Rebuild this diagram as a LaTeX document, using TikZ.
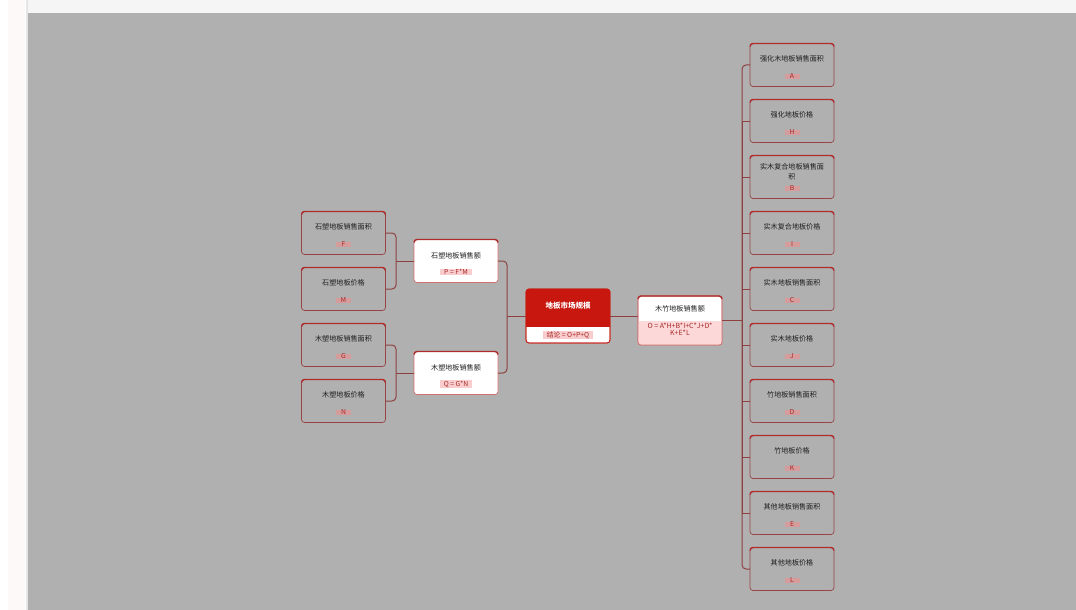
\documentclass[tikz,border=0pt]{standalone}
\usepackage{fontspec}
\newfontfamily\cjk{Noto Sans CJK SC}
\definecolor{bggray}{HTML}{B0B0B0}
\definecolor{topstrip}{HTML}{F5F5F5}
\definecolor{leftstrip}{HTML}{FDF9F8}
\definecolor{leafborder}{HTML}{984444}
\definecolor{wborder}{HTML}{D07070}
\definecolor{topred}{HTML}{AE2C2C}
\definecolor{conncol}{HTML}{8E4040}
\definecolor{badgeL}{HTML}{D69C9C}
\definecolor{badgeW}{HTML}{F9CDCD}
\definecolor{badgeT}{HTML}{A82A2A}
\definecolor{cred}{HTML}{C8170E}
\definecolor{pinkpart}{HTML}{FCD8D8}
\definecolor{titletext}{HTML}{1E1E1E}
\newcommand\leafbox[6]{%
  \node[box] (#1) at (#2,#3) {};
  \draw[topbar] ([yshift=-3pt]#1.north west) -- (#1.north west) -- (#1.north east) -- ([yshift=-3pt]#1.north east);
  \node[ttl] (#1t) at ([yshift=#6]#1.center) {#4};
  \node[badge] (#1b) at ([yshift=-11.5pt]#1.center) {#5};
}
\begin{document}
\begin{tikzpicture}[x=1pt,y=-1pt,
  box/.style={draw=leafborder, line width=0.7pt, rounded corners=3pt, minimum width=84pt, minimum height=43pt, inner sep=0pt, outer sep=0pt, fill=bggray},
  wbox/.style={box, fill=white, draw=wborder},
  ttl/.style={font=\cjk\fontsize{7.1}{10}\selectfont, text=titletext, inner sep=0pt, align=center},
  badge/.style={fill=badgeL, text=badgeT, font=\cjk\fontsize{6.8}{7}\selectfont, inner xsep=4pt, inner ysep=0.4pt, minimum width=15pt},
  wbadge/.style={badge, fill=badgeW},
  topbar/.style={draw=topred, line width=1.4pt, rounded corners=3pt},
  conn/.style={draw=conncol, line width=1pt},
  rconn/.style={conn, rounded corners=4pt}]
\useasboundingbox (0,0) rectangle (1076,610);
% background
\fill[white] (0,0) rectangle (1076,610);
\fill[leftstrip] (8,0) rectangle (25,610);
\fill[topstrip] (28,0) rectangle (1076,13);
\fill[black!10] (25.5,0) rectangle (28,610);
\fill[bggray] (28,13) rectangle (1076,610);

% left leaves
\leafbox{l1}{343.5}{233}{石塑地板销售面积}{F}{6.5pt}
\leafbox{l2}{343.5}{289}{石塑地板价格}{M}{6.5pt}
\leafbox{l3}{343.5}{345}{木塑地板销售面积}{G}{6.5pt}
\leafbox{l4}{343.5}{401}{木塑地板价格}{N}{6.5pt}

% middle left
\node[wbox] (ml1) at (456,261) {};
\draw[topbar] ([yshift=-3pt]ml1.north west) -- (ml1.north west) -- (ml1.north east) -- ([yshift=-3pt]ml1.north east);
\node[ttl] (ml1t) at ([yshift=5pt]ml1.center) {石塑地板销售额};
\node[wbadge] (ml1b) at ([yshift=-11pt]ml1.center) {P = F*M};
\node[wbox] (ml2) at (456,373) {};
\draw[topbar] ([yshift=-3pt]ml2.north west) -- (ml2.north west) -- (ml2.north east) -- ([yshift=-3pt]ml2.north east);
\node[ttl] (ml2t) at ([yshift=5pt]ml2.center) {木塑地板销售额};
\node[wbadge] (ml2b) at ([yshift=-11pt]ml2.center) {Q = G*N};

% center
\node[box, fill=white, draw=cred, minimum height=54pt] (c) at (568,316) {};
\begin{scope}
  \clip[rounded corners=3pt] (c.south west) rectangle (c.north east);
  \fill[cred] ([yshift=16pt]c.south west) rectangle (c.north east);
\end{scope}
\draw[cred, line width=0.7pt, rounded corners=3pt] (c.south west) rectangle (c.north east);
\node[ttl, text=white, font=\cjk\bfseries\fontsize{7.5}{10}\selectfont] (ct) at ([yshift=10pt]c.center) {地板市场规模};
\node[wbadge] (cb) at ([yshift=-19pt]c.center) {结论 = O+P+Q};

% right middle
\node[wbox, minimum height=49pt] (rm) at (680,320.5) {};
\begin{scope}
  \clip[rounded corners=3pt] (rm.south west) rectangle (rm.north east);
  \fill[pinkpart] ([yshift=24pt]rm.south west) rectangle (rm.south east);
\end{scope}
\draw[wborder, line width=0.7pt, rounded corners=3pt] (rm.south west) rectangle (rm.north east);
\draw[topbar] ([yshift=-3pt]rm.north west) -- (rm.north west) -- (rm.north east) -- ([yshift=-3pt]rm.north east);
\node[ttl] (rmt) at ([yshift=11.5pt]rm.center) {木竹地板销售额};
\node[ttl, text=badgeT, font=\cjk\fontsize{7}{7.2}\selectfont] (rmf) at ([yshift=-9pt]rm.center) {O = A*H+B*I+C*J+D*\\K+E*L};

% right column
\leafbox{r1}{792}{65}{强化木地板销售面积}{A}{6.5pt}
\leafbox{r2}{792}{121}{强化地板价格}{H}{6.5pt}
\leafbox{r3}{792}{177}{实木复合地板销售面\\积}{B}{5.5pt}
\leafbox{r4}{792}{233}{实木复合地板价格}{I}{6.5pt}
\leafbox{r5}{792}{289}{实木地板销售面积}{C}{6.5pt}
\leafbox{r6}{792}{345}{实木地板价格}{J}{6.5pt}
\leafbox{r7}{792}{401}{竹地板销售面积}{D}{6.5pt}
\leafbox{r8}{792}{457}{竹地板价格}{K}{6.5pt}
\leafbox{r9}{792}{513}{其他地板销售面积}{E}{6.5pt}
\leafbox{r10}{792}{569}{其他地板价格}{L}{6.5pt}

% connectors left
\coordinate (lj) at ([xshift=-19pt]c.west);
\draw[conn] (c.west) -- (lj);
\draw[rconn] (lj) |- (ml1.east);
\draw[rconn] (lj) |- (ml2.east);
\coordinate (mj1) at ([xshift=-18pt]ml1.west);
\draw[conn] (ml1.west) -- (mj1);
\draw[rconn] (mj1) |- (l1.east);
\draw[rconn] (mj1) |- (l2.east);
\coordinate (mj2) at ([xshift=-18pt]ml2.west);
\draw[conn] (ml2.west) -- (mj2);
\draw[rconn] (mj2) |- (l3.east);
\draw[rconn] (mj2) |- (l4.east);

% connectors right
\draw[conn] (c.east) -- (c.east -| rm.west);
\path (rm.east -| r1.west) ++(-8,0) coordinate (rj);
\draw[conn] (rm.east) -- (rj);
\draw[rconn] (rj) |- (r1.west);
\draw[rconn] (rj) |- (r10.west);
\foreach \k in {2,...,9} { \draw[conn] (rj) |- (r\k.west); }
\end{tikzpicture}
\end{document}
